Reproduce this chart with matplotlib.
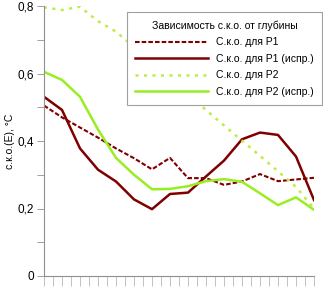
import matplotlib
matplotlib.use("Agg")
import matplotlib.pyplot as plt
import numpy as np

plt.rcParams['font.family'] = ['Liberation Sans', 'DejaVu Sans']

# depth steps (no labels on the axis in the original)
depth = list(range(16))

sko_p1 = [0.505, 0.47, 0.44, 0.41, 0.378, 0.349, 0.316, 0.35, 0.29, 0.29,
          0.27, 0.28, 0.302, 0.281, 0.286, 0.291]
sko_p1_corr = [0.531, 0.492, 0.378, 0.315, 0.28, 0.227, 0.198, 0.243, 0.247,
               0.295, 0.342, 0.405, 0.425, 0.418, 0.354, 0.225]
sko_p2 = [0.796, 0.788, 0.798, 0.755, 0.724, 0.678, 0.632, 0.585, 0.539,
          0.492, 0.446, 0.401, 0.356, 0.31, 0.264, 0.20]
sko_p2_corr = [0.605, 0.581, 0.531, 0.434, 0.35, 0.30, 0.257, 0.258, 0.266,
               0.281, 0.287, 0.279, 0.245, 0.21, 0.233, 0.196]

labels = ['С.к.о. для Р1', 'С.к.о. для Р1 (испр.)',
          'С.к.о. для Р2', 'С.к.о. для Р2 (испр.)']
legend_title = 'Зависимость с.к.о. от глубины'
y_label = 'с.к.о.(E), °С'

maroon = '#800000'
green = '#99ee22'
light_green = '#bbee44'

fig = plt.figure(figsize=(3.23, 2.89), dpi=100)
ax = fig.add_axes([44 / 323, 13 / 289, 270 / 323, 270 / 289])

ax.plot(depth, sko_p1, color=maroon, lw=1.5, dashes=(2.2, 1.0), label=labels[0])
ax.plot(depth, sko_p1_corr, color=maroon, lw=1.8, label=labels[1])
ax.plot(depth, sko_p2, color=light_green, lw=1.8, dashes=(1.2, 2.2), label=labels[2])
ax.plot(depth, sko_p2_corr, color=green, lw=1.8, label=labels[3])

ax.set_xlim(0, 15)
ax.set_ylim(0, 0.8)
ax.set_xticks(np.arange(0, 15.01, 0.5))
ax.set_xticklabels([])
ax.tick_params(axis='x', length=7, width=0.5, color='#a8a8a8')
ax.set_yticks([0, 0.2, 0.4, 0.6, 0.8])
ax.set_yticklabels(['0', '0,2', '0,4', '0,6', '0,8'], fontsize=8.5)
ax.set_yticks([0.1, 0.3, 0.5, 0.7], minor=True)
ax.tick_params(axis='y', which='both', length=5, width=0.6, color='#909090', pad=2)

for side in ['top', 'right']:
    ax.spines[side].set_visible(False)
for side in ['left', 'bottom']:
    ax.spines[side].set_color('#909090')
    ax.spines[side].set_linewidth(0.8)

ax.set_ylabel(y_label, fontsize=7.5, labelpad=2)

leg = ax.legend(title=legend_title, loc='upper right',
                bbox_to_anchor=(322 / 323, 277 / 289),
                bbox_transform=fig.transFigure, borderaxespad=0,
                fontsize=7.5, title_fontsize=7.5, frameon=True, fancybox=False,
                framealpha=1, edgecolor='#a0a0a0', handlelength=7.0,
                handletextpad=0.75, labelspacing=0.62, borderpad=0.8)
leg.get_frame().set_linewidth(0.8)

fig.savefig('out.png', dpi=100)
